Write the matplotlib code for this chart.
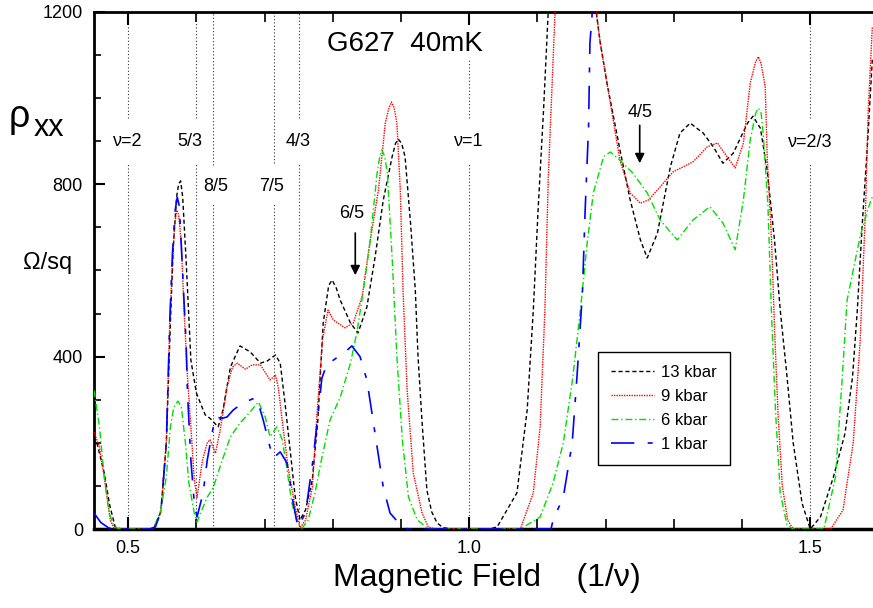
"""rho_xx of sample G627 at 40 mK versus magnetic field (1/nu) for four pressures."""
import numpy as np
import matplotlib
matplotlib.use("Agg")
import matplotlib.pyplot as plt

plt.rcParams['font.family'] = ['Liberation Sans', 'DejaVu Sans']

# 13 kbar
b13 = [0.450, 0.455, 0.465, 0.473, 0.481, 0.490, 0.530, 0.538, 0.548, 0.556, 0.562, 0.566,
       0.571, 0.574, 0.577, 0.580, 0.585, 0.592, 0.600, 0.607, 0.613, 0.620, 0.632, 0.639,
       0.650, 0.664, 0.679, 0.694, 0.704, 0.716, 0.723, 0.730, 0.738, 0.745, 0.752, 0.760,
       0.770, 0.778, 0.786, 0.794, 0.799, 0.805, 0.811, 0.826, 0.837, 0.850, 0.862, 0.874,
       0.887, 0.892, 0.896, 0.901, 0.906, 0.914, 0.921, 0.925, 0.931, 0.938, 0.945, 0.953,
       0.962, 0.975, 1.030, 1.041, 1.070, 1.085, 1.094, 1.101, 1.109, 1.116, 1.130, 1.165,
       1.183, 1.192, 1.202, 1.221, 1.236, 1.251, 1.261, 1.276, 1.295, 1.309, 1.324, 1.343,
       1.358, 1.372, 1.387, 1.408, 1.416, 1.427, 1.437, 1.448, 1.456, 1.466, 1.475, 1.488,
       1.500, 1.515, 1.534, 1.551, 1.562, 1.569, 1.576, 1.584, 1.591]
r13 = [215, 195, 130, 55, 5, 0, 0, 3, 40, 200, 480, 650,
       770, 800, 808, 770, 624, 392, 316, 288, 265, 257, 237, 276,
       376, 425, 411, 385, 390, 404, 385, 292, 176, 74, 21, 44,
       114, 250, 478, 565, 578, 560, 531, 478, 455, 515, 631, 763,
       864, 895, 905, 895, 864, 710, 555, 400, 246, 90, 40, 14,
       3, 0, 0, 5, 84, 276, 508, 740, 972, 1205, 1500, 1600,
       1240, 1130, 1035, 880, 764, 671, 629, 687, 841, 919, 942, 919,
       887, 849, 872, 942, 958, 930, 830, 664, 508, 353, 200, 60,
       0, 28, 121, 222, 353, 508, 701, 896, 1089]

# 9 kbar
b9 = [0.450, 0.458, 0.465, 0.474, 0.480, 0.532, 0.540, 0.548, 0.556, 0.561, 0.565, 0.568,
      0.571, 0.574, 0.578, 0.582, 0.587, 0.592, 0.597, 0.601, 0.609, 0.616, 0.620, 0.628,
      0.635, 0.645, 0.653, 0.660, 0.672, 0.682, 0.694, 0.708, 0.716, 0.720, 0.727, 0.735,
      0.745, 0.752, 0.760, 0.770, 0.777, 0.785, 0.793, 0.801, 0.818, 0.830, 0.843, 0.855,
      0.867, 0.877, 0.882, 0.886, 0.890, 0.894, 0.899, 0.903, 0.909, 0.918, 0.931, 0.940,
      0.950, 1.075, 1.094, 1.104, 1.111, 1.116, 1.122, 1.126, 1.140, 1.170, 1.183, 1.192,
      1.202, 1.221, 1.236, 1.251, 1.263, 1.280, 1.299, 1.328, 1.349, 1.364, 1.378, 1.390,
      1.402, 1.412, 1.420, 1.424, 1.428, 1.434, 1.437, 1.443, 1.448, 1.453, 1.459, 1.467,
      1.475, 1.530, 1.548, 1.563, 1.573, 1.581, 1.585, 1.591]
r9 = [225, 190, 120, 20, 0, 0, 5, 40, 200, 480, 620, 700,
      740, 730, 664, 508, 353, 237, 114, 73, 160, 200, 207, 176,
      230, 330, 376, 385, 371, 381, 381, 346, 357, 330, 237, 137,
      51, 3, 20, 97, 270, 439, 508, 485, 467, 478, 539, 671,
      787, 942, 975, 991, 978, 942, 787, 555, 323, 130, 37, 5,
      0, 0, 84, 237, 508, 817, 1049, 1205, 1600, 1700, 1240, 1130,
      1035, 856, 780, 756, 764, 794, 829, 852, 887, 896, 864, 838,
      896, 1035, 1085, 1096, 1080, 1026, 860, 680, 450, 260, 100, 20,
      0, 0, 44, 200, 431, 740, 972, 1165]

# 6 kbar
b6 = [0.450, 0.458, 0.465, 0.472, 0.480, 0.488, 0.532, 0.538, 0.548, 0.556, 0.562, 0.567,
      0.573, 0.578, 0.584, 0.589, 0.597, 0.601, 0.608, 0.616, 0.625, 0.638, 0.650, 0.664,
      0.679, 0.691, 0.701, 0.708, 0.718, 0.726, 0.733, 0.740, 0.748, 0.755, 0.764, 0.774,
      0.782, 0.796, 0.811, 0.826, 0.836, 0.845, 0.855, 0.865, 0.869, 0.872, 0.876, 0.880,
      0.887, 0.894, 0.902, 0.911, 0.924, 0.938, 0.950, 1.075, 1.104, 1.123, 1.138, 1.152,
      1.163, 1.173, 1.182, 1.197, 1.207, 1.221, 1.240, 1.261, 1.280, 1.305, 1.328, 1.353,
      1.372, 1.390, 1.402, 1.412, 1.420, 1.424, 1.428, 1.431, 1.438, 1.443, 1.449, 1.456,
      1.466, 1.475, 1.520, 1.537, 1.547, 1.554, 1.563, 1.573, 1.584, 1.591]
r6 = [322, 237, 121, 37, 5, 0, 0, 5, 44, 121, 237, 283,
      297, 283, 200, 107, 37, 16, 44, 74, 97, 160, 214, 246,
      272, 295, 260, 214, 237, 207, 137, 60, 14, 2, 21, 84,
      150, 253, 306, 385, 462, 555, 671, 826, 865, 880, 865, 826,
      631, 400, 207, 74, 21, 3, 0, 0, 28, 107, 200, 353,
      508, 664, 780, 864, 875, 856, 826, 780, 717, 671, 717, 748,
      710, 648, 764, 903, 965, 977, 965, 919, 750, 508, 276, 84,
      9, 0, 0, 121, 353, 531, 601, 678, 740, 771]

# 1 kbar
b1 = [0.450, 0.460, 0.472, 0.480, 0.532, 0.540, 0.548, 0.556, 0.561, 0.565, 0.569, 0.572,
      0.575, 0.579, 0.585, 0.587, 0.592, 0.597, 0.601, 0.610, 0.616, 0.623, 0.628, 0.638,
      0.645, 0.654, 0.664, 0.682, 0.689, 0.698, 0.708, 0.713, 0.723, 0.733, 0.742, 0.749,
      0.760, 0.771, 0.778, 0.784, 0.792, 0.801, 0.821, 0.828, 0.840, 0.850, 0.859, 0.874,
      0.884, 0.899, 0.910, 1.120, 1.123, 1.138, 1.151, 1.158, 1.166, 1.170, 1.175, 1.177,
      1.180, 1.183]
r1 = [37, 15, 2, 0, 0, 5, 40, 200, 480, 640, 740, 770,
      750, 624, 431, 316, 160, 60, 28, 84, 160, 222, 260, 257,
      260, 276, 288, 302, 302, 253, 190, 165, 179, 153, 60, 5,
      37, 160, 260, 350, 385, 392, 415, 425, 400, 346, 253, 97,
      37, 10, 0, 0, 21, 74, 200, 353, 548, 740, 933, 1128,
      1189, 1300]

# dotted lines at the filling factors, with a gap for each label
nu_x = [0.5, 0.6, 0.625, 0.7143, 0.75, 1.0, 1.5]
nu_top = [1200, 1200, 1200, 1200, 1200, 1089, 1200]
gap_hi = [954, 954, 845, 850, 954, 954, 954]
gap_lo = [850, 850, 757, 757, 850, 850, 850]

nu_labels = ['ν=2', '5/3', '8/5', '7/5', '4/3', 'ν=1', 'ν=2/3']
nu_label_x = [0.5, 0.591, 0.629, 0.711, 0.749, 1.0, 1.5]
nu_label_y = [900, 900, 796, 796, 900, 900, 896]

arrow_labels = ['6/5', '4/5']
arrow_x = [0.833, 1.25]
arrow_from = [687, 937]
arrow_to = [589, 849]
arrow_label_x = [0.828, 1.251]
arrow_label_y = [733, 966]

fig = plt.figure(figsize=(8.73, 6.08), dpi=100)
ax = fig.add_axes([0.1077, 0.1299, 0.8923, 0.8504])

for x, top, hi, lo in zip(nu_x, nu_top, gap_hi, gap_lo):
    ax.plot([x, x], [hi, top], color='0.2', lw=0.8, ls=(0, (1, 2)), zorder=1)
    ax.plot([x, x], [0, lo], color='0.2', lw=0.8, ls=(0, (1, 2)), zorder=1)
for t, x, y in zip(nu_labels, nu_label_x, nu_label_y):
    ax.text(x, y, t, ha='center', va='center', fontsize=13)
for t, x, y0, y1, lx, ly in zip(arrow_labels, arrow_x, arrow_from, arrow_to,
                                arrow_label_x, arrow_label_y):
    ax.annotate('', xy=(x, y1), xytext=(x, y0),
                arrowprops=dict(arrowstyle='-|>', color='black', lw=1.2,
                                mutation_scale=14, shrinkA=0, shrinkB=0))
    ax.text(lx, ly, t, ha='center', va='center', fontsize=13)

ax.plot(b13, r13, color='black', lw=1.0, ls=(0, (3, 2)), label='13 kbar', zorder=3)
ax.plot(b9, r9, color='red', lw=1.0, ls=(0, (1, 0.8)), label='9 kbar', zorder=3)
ax.plot(b6, r6, color='#00dd00', lw=1.0, ls=(0, (5, 2, 1, 2)), label='6 kbar', zorder=3)
ax.plot(b1, r1, color='blue', lw=1.2, ls=(0, (14, 8, 3, 8)), label='1 kbar', zorder=3)

ax.set_xlim(0.45, 1.592)
ax.set_ylim(0, 1200)
ax.set_xticks([0.5, 1.0, 1.5])
ax.set_xticklabels(['0.5', '1.0', '1.5'])
ax.set_xticks(np.arange(0.5, 1.6, 0.1), minor=True)
ax.set_yticks([0, 400, 800, 1200])
ax.set_yticks(np.arange(0, 1201, 100), minor=True)
ax.tick_params(axis='x', which='both', direction='in', top=True, labelsize=13, pad=8)
ax.tick_params(axis='x', which='major', length=9, width=1.5)
ax.tick_params(axis='x', which='minor', length=7, width=1.2)
ax.tick_params(axis='y', which='both', direction='in', labelsize=13, pad=8)
ax.tick_params(axis='y', which='major', length=8, width=1.5)
ax.tick_params(axis='y', which='minor', length=5, width=1.2)
ax.spines['right'].set_visible(False)
ax.spines['left'].set_linewidth(2)
ax.spines['bottom'].set_linewidth(2.5)
ax.spines['top'].set_linewidth(2)

ax.text(0.906, 1126, 'G627  40mK', ha='center', va='center', fontsize=20)
fig.text(0.010, 0.808, 'ρ', fontsize=27, va='center')
fig.text(0.038, 0.790, 'xx', fontsize=22, va='center')
fig.text(0.055, 0.567, 'Ω/sq', fontsize=17, ha='center', va='center')
fig.text(0.558, 0.049, 'Magnetic Field    (1/ν)', fontsize=23, ha='center', va='center')

leg = ax.legend(loc='upper left', bbox_to_anchor=(0.647, 0.342), borderaxespad=0,
                fontsize=12, handlelength=2.6, handletextpad=0.45, borderpad=0.75,
                labelspacing=0.55, fancybox=False, framealpha=1, edgecolor='black')
leg.get_frame().set_linewidth(1.0)

fig.savefig('out.png', dpi=100)
